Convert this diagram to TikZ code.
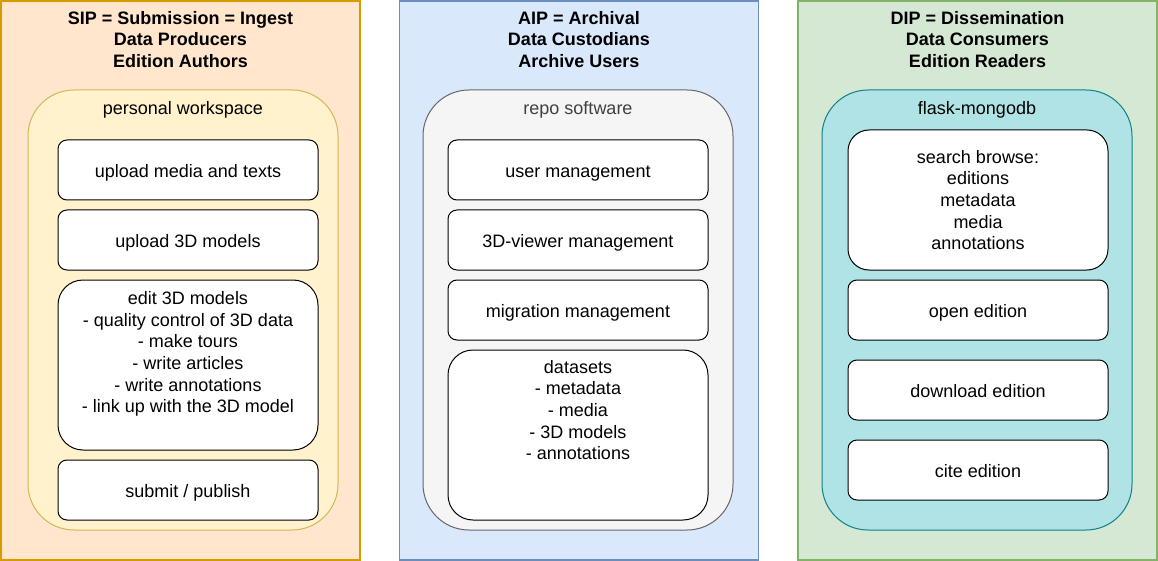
\documentclass[tikz,border=0pt]{standalone}
\usepackage{fontspec}
\setmainfont{Liberation Sans}
\definecolor{orF}{HTML}{FFE6CC}\definecolor{orD}{HTML}{D79B00}
\definecolor{yeF}{HTML}{FFF2CC}\definecolor{yeD}{HTML}{D6B656}
\definecolor{blF}{HTML}{DAE8FC}\definecolor{blD}{HTML}{6C8EBF}
\definecolor{grF}{HTML}{F5F5F5}\definecolor{grD}{HTML}{666666}
\definecolor{gnF}{HTML}{D5E8D4}\definecolor{gnD}{HTML}{82B366}
\definecolor{teF}{HTML}{B0E3E6}\definecolor{teD}{HTML}{0E8088}
\newcommand{\fsz}{\fontsize{18}{21.6}\selectfont}
\tikzset{
  panel/.style={draw=#1, line width=1.2pt, minimum width=359pt, minimum height=559pt, inner sep=0pt},
  holder/.style={draw=#1, line width=1pt, rounded corners=46pt, minimum width=310pt, minimum height=440pt, inner sep=0pt},
  box/.style={draw=black, fill=white, line width=1pt, rounded corners=9pt, minimum width=260pt, minimum height=60pt, inner sep=0pt, align=center, font=\fsz},
  one/.style={box, text height=19pt, text depth=4pt},
  title/.style={font=\fsz\bfseries, align=center, inner sep=0pt},
  txt/.style={font=\fsz, align=center, inner sep=0pt}
}
\begin{document}
\begin{tikzpicture}[x=1pt,y=1pt]
\useasboundingbox (0,0) rectangle (1158,-561);
% panels
\node[panel=orD, fill=orF] (sip) at (180.5,-280.5) {};
\node[panel=blD, fill=blF] (aip) at (579,-280.5) {};
\node[panel=gnD, fill=gnF] (dip) at (977.5,-280.5) {};
\node[title] (sipt) at (180.5,-39.5) {SIP = Submission = Ingest\\Data Producers\\Edition Authors};
\node[title] (aipt) at (579,-39.5) {AIP = Archival\\Data Custodians\\Archive Users};
\node[title] (dipt) at (977.5,-39.5) {DIP = Dissemination\\Data Consumers\\Edition Readers};
% holders
\node[holder=yeD, fill=yeF] (pw) at (183,-310) {};
\node[holder=grD, fill=grF] (rs) at (578,-310) {};
\node[holder=teD, fill=teF] (fm) at (977,-310) {};
\node[txt] (pwt) at (183,-110) {personal workspace};
\node[txt, text=black!75] (rst) at (578,-110) {repo software};
\node[txt] (fmt) at (977,-110) {flask-mongodb};
% left boxes
\node[one] (s1) at (188,-170) {upload media and texts};
\node[one] (s2) at (188,-240) {upload 3D models};
\node[box, minimum height=170pt, rounded corners=25pt] (s3) at (188,-365) {};
\node[txt] (s3t) at (188,-354) {edit 3D models\\- quality control of 3D data\\- make tours\\- write articles\\- write annotations\\- link up with the 3D model};
\node[one] (s4) at (188,-490) {submit / publish};
% middle boxes
\node[one] (a1) at (578,-170) {user management};
\node[one] (a2) at (578,-240) {3D-viewer management};
\node[one] (a3) at (578,-310) {migration management};
\node[box, minimum height=170pt, rounded corners=25pt] (a4) at (578,-435) {};
\node[txt] (a4t) at (578,-410) {datasets\\- metadata\\- media\\- 3D models\\- annotations};
% right boxes
\node[box, minimum height=140pt, rounded corners=21pt] (d1) at (978,-200) {search browse:\\editions\\metadata\\media\\annotations};
\node[one] (d2) at (978,-310) {open edition};
\node[one] (d3) at (978,-390) {download edition};
\node[one] (d4) at (978,-470) {cite edition};
\end{tikzpicture}
\end{document}
